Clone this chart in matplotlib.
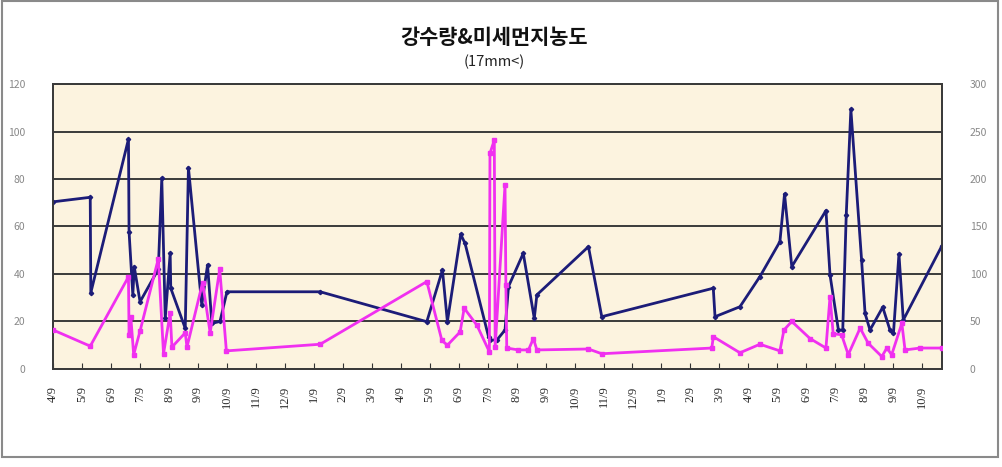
import numpy as np
import matplotlib.pyplot as plt
from matplotlib.patches import Rectangle

plt.rcParams['font.family'] = ['Noto Sans CJK KR', 'DejaVu Sans']

# x positions in months counted from the first tick (4/9)
rain_month = [0.0, 1.28, 1.30, 2.60, 2.62, 2.75, 2.80, 3.00, 3.63, 3.75, 3.87, 4.04, 4.06,
              4.56, 4.67, 5.13, 5.33, 5.48, 5.76, 6.00, 9.22, 12.90, 13.44, 13.61, 14.07,
              14.22, 15.03, 15.08, 15.32, 15.60, 15.72, 16.23, 16.61, 16.70, 18.48, 18.94,
              22.79, 22.85, 23.71, 24.40, 25.09, 25.25, 25.50, 26.68, 26.82, 27.11, 27.26,
              27.38, 27.54, 27.91, 28.03, 28.20, 28.64, 28.89, 29.01, 29.20, 29.35, 30.68]
rain_mm = [70.4, 72.3, 32.1, 96.8, 57.8, 31.2, 43.0, 28.3, 42.0, 80.3, 21.3, 48.7, 34.0,
           17.1, 84.8, 27.0, 43.8, 19.2, 20.0, 32.5, 32.5, 19.9, 41.7, 19.9, 56.7,
           52.9, 13.6, 12.2, 12.2, 16.4, 34.7, 48.7, 21.3, 31.2, 51.5, 22.0,
           34.0, 22.0, 26.2, 38.9, 53.6, 73.7, 43.1, 66.7, 39.6, 16.4, 16.4,
           64.8, 109.3, 45.9, 23.4, 16.4, 26.0, 16.4, 15.0, 48.4, 20.6, 51.8]

pm_month = [0.0, 1.28, 2.60, 2.62, 2.68, 2.78, 3.00, 3.63, 3.81, 4.04, 4.10, 4.56, 4.62,
            5.16, 5.42, 5.75, 5.98, 9.22, 12.90, 13.42, 13.61, 14.05, 14.19, 14.63, 15.06,
            15.08, 15.23, 15.26, 15.60, 15.63, 15.66, 16.06, 16.41, 16.58, 16.70, 18.48,
            18.94, 22.74, 22.79, 23.71, 24.40, 25.09, 25.23, 25.50, 26.13, 26.68, 26.82,
            26.93, 27.22, 27.45, 27.86, 28.14, 28.61, 28.78, 28.95, 29.30, 29.41, 29.93, 30.68]
pm_conc = [41, 24, 97, 36, 55, 15, 40, 116, 16, 59, 23, 38, 23,
           91, 38, 105, 19, 26, 92, 30, 25, 39, 64, 46, 18,
           227, 241, 23, 194, 88, 22, 20, 20, 32, 20, 21,
           16, 22, 34, 17, 26, 19, 41, 50, 32, 22, 76,
           37, 36, 15, 43, 27, 13, 22, 15, 48, 20, 22, 22]

tick_labels = ['4/9', '5/9', '6/9', '7/9', '8/9', '9/9', '10/9', '11/9', '12/9', '1/9', '2/9',
               '3/9', '4/9', '5/9', '6/9', '7/9', '8/9', '9/9', '10/9', '11/9', '12/9', '1/9',
               '2/9', '3/9', '4/9', '5/9', '6/9', '7/9', '8/9', '9/9', '10/9']

fig = plt.figure(figsize=(10.03, 4.67), dpi=100)
ax = fig.add_axes([0.053, 0.21, 0.886, 0.61])
ax.set_facecolor('#FCF3DF')

ax.plot(rain_month, rain_mm, color='#1C1C78', lw=2.0, marker='D', ms=2.2, zorder=3)
ax.set_xlim(0, 30.68)
ax.set_ylim(0, 120)
ax.set_yticks(np.arange(0, 121, 20))
ax.grid(axis='y', color='#3a3a3a', lw=1.4)
ax.set_axisbelow(True)

ax.set_xticks(np.arange(len(tick_labels)))
ax.set_xticklabels(tick_labels, rotation=90, fontsize=9, color='#2a2a2a',
                   family=['Liberation Serif'])
ax.tick_params(axis='x', direction='in', length=4, color='#333333', pad=12)
ax.tick_params(axis='y', length=0, pad=20, labelsize=7.5, labelcolor='#888888')

ax2 = ax.twinx()
ax2.plot(pm_month, pm_conc, color='#F030F0', lw=2.0, marker='s', ms=2.5, zorder=4)
ax2.set_ylim(0, 300)
ax2.set_yticks(np.arange(0, 301, 50))
ax2.tick_params(axis='y', length=0, pad=20, labelsize=7.5, labelcolor='#888888')

for a in (ax, ax2):
    for s in a.spines.values():
        s.set_color('#3a3a3a')
        s.set_linewidth(1.3)

fig.text(0.493, 0.92, '강수량&미세먼지농도', ha='center', va='center',
         fontsize=15, fontweight='bold', color='#111111')
fig.text(0.493, 0.867, '(17mm<)', ha='center', va='center', fontsize=10.5, color='#222222')

fig.patches.append(Rectangle((0.002, 0.021), 0.993, 0.976, transform=fig.transFigure,
                             fill=False, edgecolor='#8a8a8a', lw=1.5))

fig.savefig('out.png', dpi=100)
